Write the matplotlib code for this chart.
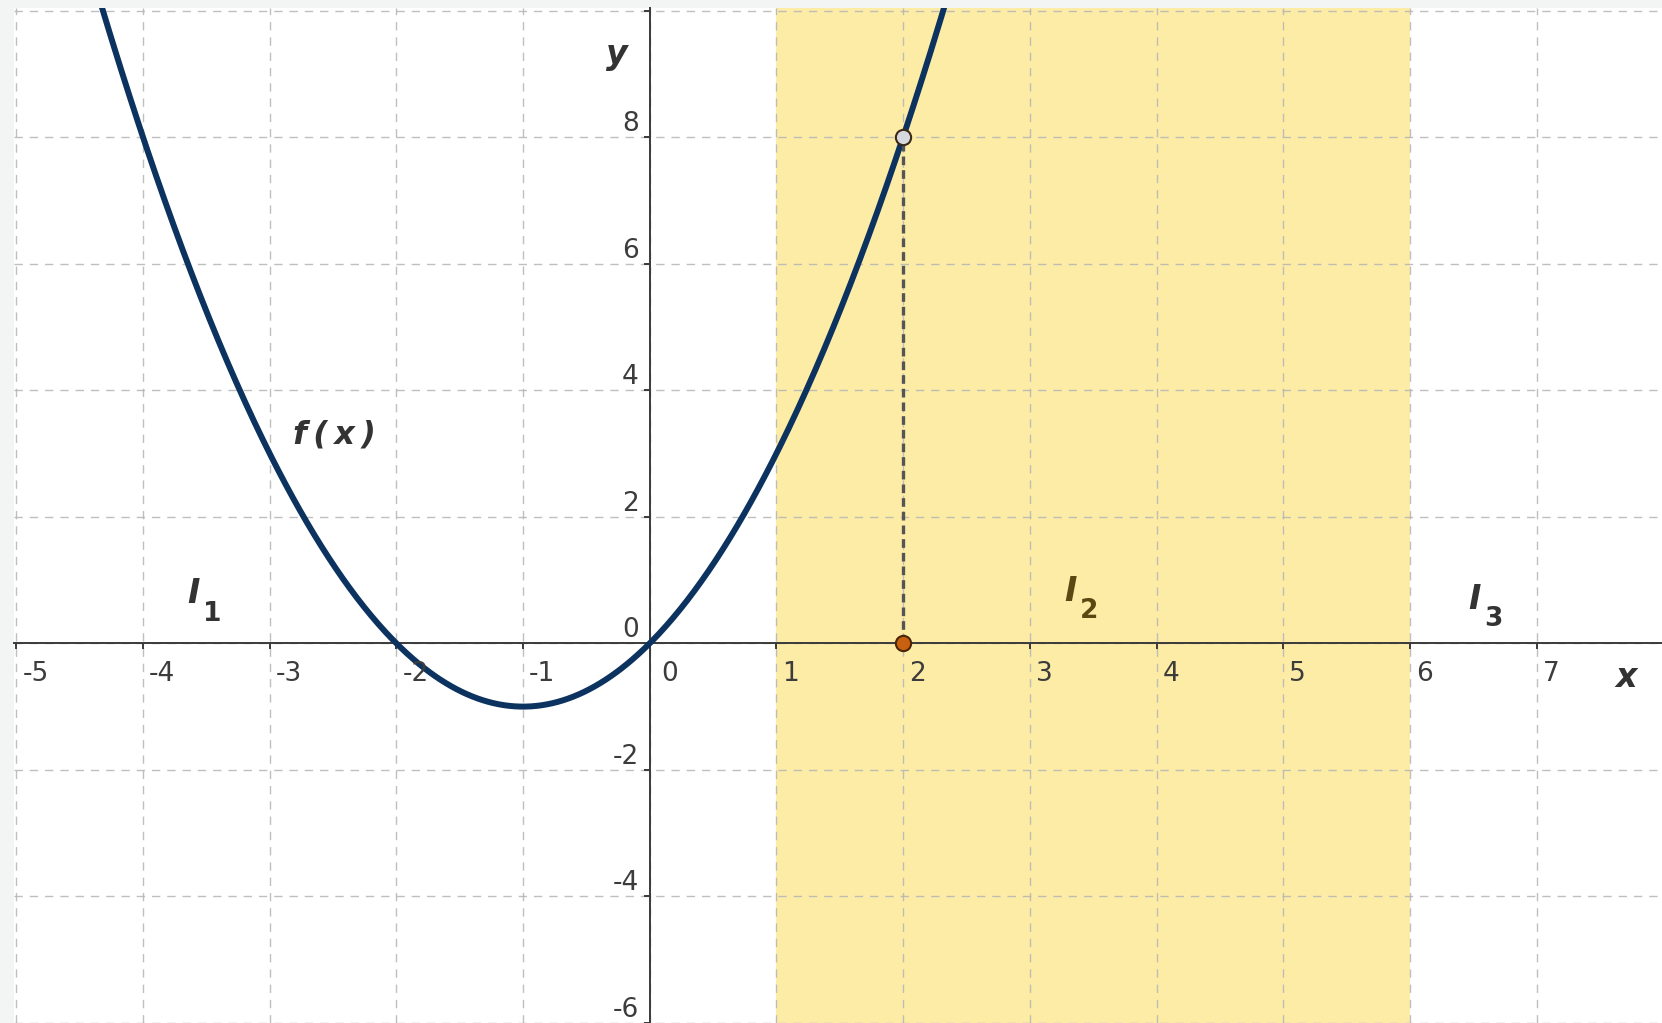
import numpy as np
import matplotlib
matplotlib.use("Agg")
import matplotlib.pyplot as plt

# f(x) = x^2 + 2x, stored as polynomial coefficients
f_coeffs = [1, 2, 0]
x_range = (-4.5, 2.5)

# intervals on the x axis
shade_interval = (1, 6)
interval_labels = ["1", "2", "3"]
interval_label_pos = [(-3.60, 0.78), (3.32, 0.82), (6.51, 0.70)]

# point on the curve and its projection
px = 2
py = 8

x_ticks = [-5, -4, -3, -2, -1, 0, 1, 2, 3, 4, 5, 6, 7]
y_ticks = [-6, -4, -2, 0, 2, 4, 6, 8]
grid_y = [-6, -4, -2, 0, 2, 4, 6, 8, 10]

W, H = 1662, 1023
fig = plt.figure(figsize=(W / 100, H / 100), dpi=100, facecolor="#f3f5f5")
ax = fig.add_axes([14 / W, 0, (W - 14) / W, (H - 8) / H])
ax.set_xlim(-5.018, 7.99)
ax.set_ylim(-5.99, 10.04)

# shaded interval
ax.axvspan(*shade_interval, color="#fdeca6", zorder=0, lw=0)

# dashed grid
for gx in x_ticks:
    ax.axvline(gx, color="#b4b4b4", lw=1.0, dashes=(6, 5), zorder=1, alpha=0.85)
for gy in grid_y:
    ax.axhline(gy, color="#b4b4b4", lw=1.0, dashes=(6, 5), zorder=1, alpha=0.85)

# axes through the origin
for s in ["top", "right"]:
    ax.spines[s].set_visible(False)
ax.spines["left"].set_position(("data", 0))
ax.spines["bottom"].set_position(("data", 0))
for s in ["left", "bottom"]:
    ax.spines[s].set_color("#3a3a3a")
    ax.spines[s].set_linewidth(1.4)
    ax.spines[s].set_zorder(3)
ax.set_xticks(x_ticks)
ax.set_yticks(grid_y)
ax.tick_params(direction="out", length=4.5, width=1.4, color="#3a3a3a",
               labelbottom=False, labelleft=False)

lab_kw = dict(fontsize=19, color="#3c3c3c", family="DejaVu Sans",
              textcoords="offset pixels", zorder=5)
for t in x_ticks:
    dx = 12 if t == 0 else 6
    ax.annotate(str(t), (t, 0), xytext=(dx, -38), ha="left", va="baseline", **lab_kw)
for t in y_ticks:
    ax.annotate(str(t), (0, t), xytext=(-11, 6), ha="right", va="baseline", **lab_kw)

# curve
xs = np.linspace(*x_range, 500)
ax.plot(xs, np.polyval(f_coeffs, xs), color="#0c335f", lw=4.3, zorder=4)

# projection of the point onto the x axis
ax.plot([px, px], [0, py], color="#555555", lw=2.4, dashes=(2.6, 1.5), zorder=4)
ax.plot(px, py, "o", ms=11, mfc="#d6d9dd", mec="#3b2a1a", mew=1.5, zorder=6)
ax.plot(px, 0, "o", ms=11, mfc="#c8600f", mec="#4a2608", mew=1.5, zorder=6)

bold_it = dict(family="DejaVu Sans", weight="bold", style="italic")

# axis names
ax.text(7.71, -0.54, "x", fontsize=24, color="#333333", ha="center", va="center", **bold_it)
ax.text(-0.26, 9.3, "y", fontsize=24, color="#333333", ha="center", va="center", **bold_it)

# function label
ax.text(-2.49, 3.30, "f\u2009(\u2009x\u2009)", fontsize=23, color="#333333",
        ha="center", va="center", **bold_it)

# interval labels I1, I2, I3
for i, (lab, (lx, ly)) in enumerate(zip(interval_labels, interval_label_pos)):
    c = "#5a4812" if i == 1 else "#333333"
    ax.text(lx, ly, "I", fontsize=24, color=c, ha="center", va="center", **bold_it)
    ax.annotate(lab, (lx, ly), xytext=(19, -20), textcoords="offset pixels",
                fontsize=19, color=c, ha="center", va="center",
                family="DejaVu Sans", weight="bold")

fig.savefig("out.png", dpi=100, facecolor=fig.get_facecolor())
